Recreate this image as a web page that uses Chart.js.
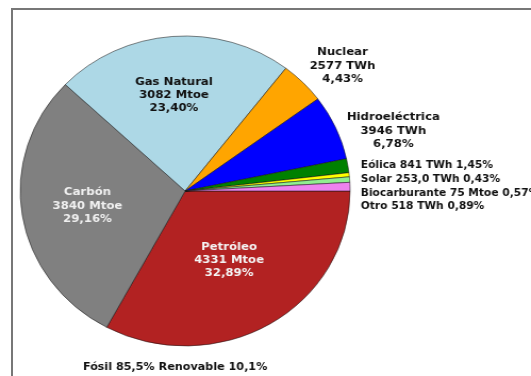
<!DOCTYPE html>
<html>
<head>
<meta charset="utf-8">
<title>Consumo mundial de energía</title>
<script src="https://cdn.jsdelivr.net/npm/chart.js@4.4.1/dist/chart.umd.min.js"></script>
<style>
  html, body { margin: 0; padding: 0; background: #fff; overflow: hidden; }
  #frame { position: absolute; left: 11px; top: 8px; width: 600px; height: 500px; border: 2px solid #777; }
  /* the original figure is slightly wider than tall, so stretch the whole drawing */
  #wrap { position: absolute; left: 0; top: 0; width: 499px; height: 376px; transform: scaleX(1.0641); transform-origin: 0 0; }
</style>
</head>
<body>
<div id="frame"></div>
<div id="wrap"><canvas id="energyChart"></canvas></div>
<script>
// Energy sources, clockwise from 3 o'clock
const categories = ['Petróleo', 'Carbón', 'Gas Natural', 'Nuclear', 'Hidroeléctrica', 'Eólica', 'Solar', 'Biocarburante', 'Otro'];
const shares = [32.89, 29.16, 23.40, 4.43, 6.78, 1.45, 0.43, 0.57, 0.89];
const amounts = ['4331 Mtoe', '3840 Mtoe', '3082 Mtoe', '2577 TWh', '3946 TWh', '841 TWh', '253,0 TWh', '75 Mtoe', '518 TWh'];
const footerText = 'Fósil 85,5% Renovable 10,1%';

const sliceColors = ['#b22222', '#808080', '#add8e6', '#ffa500', '#0000ff', '#008000', '#ffff00', '#90ee90', '#ee82ee'];

// how each label sits relative to its slice: r = fraction of radius along the mid angle
const placement = [
    { r: 0.52, color: '#f4f4f4' },
    { r: 0.60, color: '#f0f0f0' },
    { r: 0.62, dx: -3, color: '#111' },
    { r: 1.20, dx: 15, dy: 5, color: '#111' },
    { r: 1.20, dx: 26, dy: 16, color: '#111' },
    { stack: true },
    { stack: true },
    { stack: true },
    { stack: true }
];

const BIG_FONT = 'bold 11px "DejaVu Sans", sans-serif';
const SMALL_FONT = 'bold 10px "DejaVu Sans", sans-serif';
const LINE_H = 13.3;
const STACK_H = 13.7;

function pct(v) {
    return v.toFixed(2).replace('.', ',') + '%';
}

const sliceLabels = {
    id: 'sliceLabels',
    afterDatasetsDraw(chart) {
        const ctx = chart.ctx;
        const arcs = chart.getDatasetMeta(0).data;
        let stackY = null;
        let stackRow = 0;

        ctx.save();
        arcs.forEach((arc, i) => {
            const { x, y, startAngle, endAngle, outerRadius } =
                arc.getProps(['x', 'y', 'startAngle', 'endAngle', 'outerRadius'], true);
            const mid = (startAngle + endAngle) / 2;
            const p = placement[i];

            if (p.stack) {
                // small slices get one-line labels stacked to the right of the pie
                if (stackY === null) {
                    stackY = y + Math.sin(mid) * outerRadius;
                }
                ctx.font = SMALL_FONT;
                ctx.fillStyle = '#111';
                ctx.textAlign = 'left';
                ctx.textBaseline = 'middle';
                ctx.fillText(categories[i] + ' ' + amounts[i] + ' ' + pct(shares[i]),
                    x + outerRadius * 1.065, stackY + stackRow * STACK_H);
                stackRow++;
                return;
            }

            const lx = x + Math.cos(mid) * outerRadius * p.r + (p.dx || 0);
            const ly = y + Math.sin(mid) * outerRadius * p.r + (p.dy || 0);
            const lines = [categories[i], amounts[i], pct(shares[i])];
            ctx.font = BIG_FONT;
            ctx.fillStyle = p.color;
            ctx.textAlign = 'center';
            ctx.textBaseline = 'middle';
            lines.forEach((t, k) => {
                ctx.fillText(t, lx, ly + (k - 1) * LINE_H);
            });
        });

        // summary line under the pie
        const first = arcs[0];
        ctx.font = 'bold 10.5px "DejaVu Sans", sans-serif';
        ctx.fillStyle = '#111';
        ctx.textAlign = 'left';
        ctx.textBaseline = 'middle';
        ctx.fillText(footerText, first.x - first.outerRadius * 0.62, first.y + first.outerRadius + 21);
        ctx.restore();
    }
};

new Chart(document.getElementById('energyChart'), {
    type: 'pie',
    data: {
        labels: categories,
        datasets: [{
            data: shares,
            backgroundColor: sliceColors,
            borderColor: 'rgba(20, 20, 20, 0.75)',
            borderWidth: 0.7,
            radius: 155
        }]
    },
    options: {
        responsive: true,
        maintainAspectRatio: false,
        animation: false,
        rotation: 90,
        layout: {
            padding: { left: 0, right: 151, top: 6, bottom: 0 }
        },
        plugins: {
            legend: { display: false },
            tooltip: { enabled: false }
        }
    },
    plugins: [sliceLabels]
});
</script>
</body>
</html>
